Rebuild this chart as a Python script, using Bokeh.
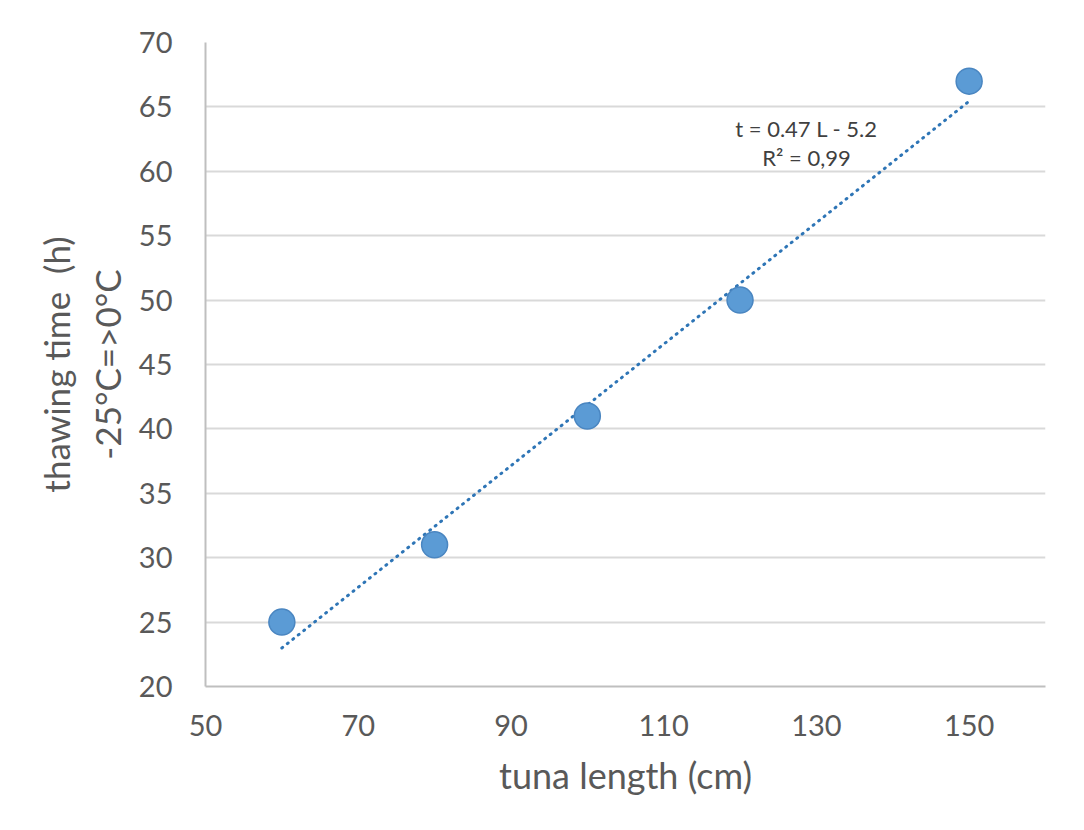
import numpy as np
from bokeh.plotting import figure
from bokeh.models import Range1d, FixedTicker, Label
from bokeh.embed import file_html
from bokeh.resources import INLINE

# data
tuna_length = [60, 80, 100, 120, 150]
thawing_time = [25, 31, 41, 50, 67]
x_ticks = [50, 70, 90, 110, 130, 150]
y_ticks = [20, 25, 30, 35, 40, 45, 50, 55, 60, 65, 70]
x_title = "tuna length (cm)"
y_title = "thawing time \u00a0(h)\n-25\u00b0C=>0\u00b0C"
equation_text = "t = 0.47 L - 5.2\nR\u00b2 = 0,99"

FONT = "Lato"
GRAY = "#595959"

p = figure(width=1068, height=814, output_backend="svg", toolbar_location=None,
           x_range=Range1d(50, 160), y_range=Range1d(20, 70),
           min_border_left=205, min_border_top=42, min_border_right=23, min_border_bottom=128)
p.outline_line_color = None
p.background_fill_color = "white"
p.border_fill_color = "white"

# grid
p.xgrid.grid_line_color = None
p.ygrid.grid_line_color = "#d9d9d9"
p.ygrid.grid_line_width = 2
p.ygrid.ticker = FixedTicker(ticks=y_ticks)

# axes
for ax in (p.xaxis[0], p.yaxis[0]):
    ax.axis_line_color = "#bfbfbf"
    ax.axis_line_width = 2
    ax.major_tick_line_color = None
    ax.minor_tick_line_color = None
    ax.major_label_text_font = FONT
    ax.major_label_text_font_size = "29px"
    ax.major_label_text_color = GRAY
    ax.axis_label_text_font = FONT
    ax.axis_label_text_font_size = "36px"
    ax.axis_label_text_font_style = "normal"
    ax.axis_label_text_color = GRAY

p.xaxis.ticker = FixedTicker(ticks=x_ticks)
p.yaxis.ticker = FixedTicker(ticks=y_ticks)
p.xaxis.major_label_standoff = 22
p.yaxis.major_label_standoff = 27
p.xaxis.axis_label = x_title
p.xaxis.axis_label_standoff = 14
p.yaxis.axis_label = y_title
p.yaxis.axis_label_text_font_size = "35px"
p.yaxis.axis_label_text_line_height = 1.2
p.yaxis.axis_label_standoff = 8

# trendline (least-squares fit of the data)
slope, intercept = np.polyfit(tuna_length, thawing_time, 1)
tx = np.array([min(tuna_length), max(tuna_length)], dtype=float)
p.line(tx, slope * tx + intercept, line_color="#2E75B6", line_width=3,
       line_dash="1 6", line_cap="round")

# points
p.scatter(tuna_length, thawing_time, size=26, fill_color="#5B9BD5",
          line_color="#4A86C1", line_width=1.5)

p.add_layout(Label(x=128.7, y=62.2, text=equation_text, text_align="center",
                   text_baseline="middle", text_font=FONT, text_font_size="22px",
                   text_color="#404040", text_line_height=1.1))

open("out.html", "w").write(file_html(p, INLINE))
